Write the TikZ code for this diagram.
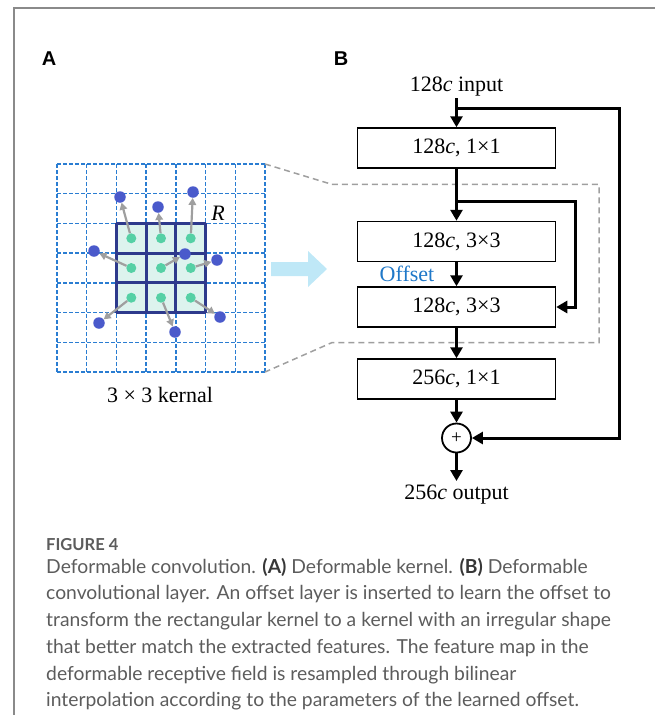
\documentclass[tikz,border=0pt]{standalone}
\usepackage{fontspec}
\setmainfont{Liberation Serif}
\setsansfont{Liberation Sans}
\newfontfamily\capfont{Lato}
\usetikzlibrary{arrows.meta, positioning}

\definecolor{gridblue}{HTML}{2A7DD2}
\definecolor{kernfill}{HTML}{DDF3EE}
\definecolor{kernline}{HTML}{2E3A8C}
\definecolor{dotgreen}{HTML}{55D0A5}
\definecolor{dotblue}{HTML}{4A5ACB}
\definecolor{offsetblue}{HTML}{1F78C8}
\definecolor{flowblue}{HTML}{BFE8F7}
\definecolor{capgray}{HTML}{5C5C5C}
\definecolor{framegray}{HTML}{8A8A8A}

\tikzset{
	gridline/.style={gridblue, line width=1.5pt, dash pattern=on 4pt off 2pt},
	kernelline/.style={kernline, line width=3pt},
	gdot/.style={circle, fill=dotgreen, inner sep=0pt, minimum size=10pt},
	bdot/.style={circle, fill=dotblue, inner sep=0pt, minimum size=11.5pt},
	offsetarrow/.style={gray!75, line width=2.2pt, -{Triangle[length=7pt,width=7.5pt]}},
	projline/.style={gray!75, line width=1.5pt, dash pattern=on 6pt off 4pt},
	layer/.style={draw, line width=1.5pt, minimum width=198pt, minimum height=40pt, inner sep=0pt},
	flow/.style={line width=3pt, -{Triangle[length=11pt,width=12pt]}},
	sumnode/.style={draw, circle, line width=1.8pt, minimum size=29pt, inner sep=0pt, font=\fontsize{19}{19}\selectfont},
	panel/.style={font=\sffamily\bfseries\fontsize{20}{20}\selectfont},
	capline/.style={anchor=west, inner sep=0pt, text=capgray, font=\capfont\fontsize{19.3}{22}\selectfont}
}

\begin{document}
\begin{tikzpicture}[x=1pt, y=-1pt, font=\fontsize{22}{24}\selectfont]
	\useasboundingbox (0,0) rectangle (655,715);

	% frame and panel letters
	\draw[framegray, line width=2pt] (655,8) -- (14,8) -- (14,715);
	\node[panel] (lblA) at (49,59) {A};
	\node[panel] (lblB) at (341,59) {B};

	% Draw the sampling grid
	\fill[kernfill] (116.43,223.43) rectangle (205.57,312.57);
	\foreach \k in {0,...,7} {
		\draw[gridline] (57+29.714*\k,164) -- (57+29.714*\k,372);
		\draw[gridline] (57,164+29.714*\k) -- (265,164+29.714*\k);
	}
	\foreach \k in {0,...,3} {
		\draw[kernelline] (116.43+29.714*\k,223.43) -- (116.43+29.714*\k,312.57);
		\draw[kernelline] (116.43,223.43+29.714*\k) -- (205.57,223.43+29.714*\k);
	}

	% kernel points and their offsets
	\foreach \i/\j/\bx/\by in {0/0/120/197, 1/0/158/207, 2/0/193/192,
			0/1/94/251, 1/1/185/254, 2/1/217/260,
			0/2/99/323, 1/2/175/332, 2/2/220/317} {
		\node[gdot] (g\i\j) at (131.3+29.714*\i,238.3+29.714*\j) {};
		\node[bdot] (b\i\j) at (\bx,\by) {};
		\draw[offsetarrow] (g\i\j) -- (b\i\j);
	}
	\node[font=\itshape\fontsize{22}{22}\selectfont] (rlbl) at (218,213) {R};
	\node (kname) at (160,395) {3 × 3 kernal};

	% zoom lines to the deformable block
	\coordinate (gridNE) at (265,164);
	\coordinate (gridSE) at (265,372);
	\coordinate (boxNW) at (331.7,184.3);
	\coordinate (boxSW) at (331.7,342.7);
	\draw[projline] (gridNE) -- (boxNW) -- (599,184.3) -- (599,342.7) -- (boxSW) -- (gridSE);
	\fill[flowblue] (271,262) -- (308,262) -- (308,251) -- (327,269) -- (308,287) -- (308,276) -- (271,276) -- cycle;

	% Draw the layer stack
	\node (in) at (456.5,87) {128\textit{c} input};
	\node[layer] (c1) at (456.5,148) {128\textit{c}, 1×1};
	\node[layer] (c2) at (456.5,241.5) {128\textit{c}, 3×3};
	\node[layer] (c3) at (456.5,307) {128\textit{c}, 3×3};
	\node[layer] (c4) at (456.5,379) {256\textit{c}, 1×1};
	\node[sumnode] (sum) at (456.5,438) {+};
	\node (out) at (456.5,495) {256\textit{c} output};
	\node[text=offsetblue] (off) at (407,274) {Offset};

	\coordinate (split1) at (456.5,108);
	\coordinate (skipBR) at (619,438);
	\coordinate (split2) at (456.5,201);
	\coordinate (offBR) at (575,307);

	\draw[flow] (in.south |- 0,98) -- (c1);
	\draw[flow] (c1) -- (c2);
	\draw[flow] (c2) -- (c3);
	\draw[flow] (c3) -- (c4);
	\draw[flow] (c4) -- (sum);
	\draw[flow] (sum) -- (456.5,481);
	\draw[flow] (split1) -| (skipBR) -- (sum.east);
	\draw[flow] (split2) -| (offBR) -- (c3.east);

	% caption
	\node[capline, font=\capfont\bfseries\fontsize{16.5}{18}\selectfont] (cap0) at (46,545) {FIGURE 4};
	\node[capline] (cap1) at (46,567) {Deformable convolution. \textcolor{capgray!60!black}{\bfseries(A)} Deformable kernel. \textcolor{capgray!60!black}{\bfseries(B)} Deformable};
	\node[capline] (cap2) at (46,594) {convolutional layer. An offset layer is inserted to learn the offset to};
	\node[capline] (cap3) at (46,621) {transform the rectangular kernel to a kernel with an irregular shape};
	\node[capline] (cap4) at (46,648) {that better match the extracted features. The feature map in the};
	\node[capline] (cap5) at (46,675) {deformable receptive field is resampled through bilinear};
	\node[capline] (cap6) at (46,701) {interpolation according to the parameters of the learned offset.};
\end{tikzpicture}
\end{document}
